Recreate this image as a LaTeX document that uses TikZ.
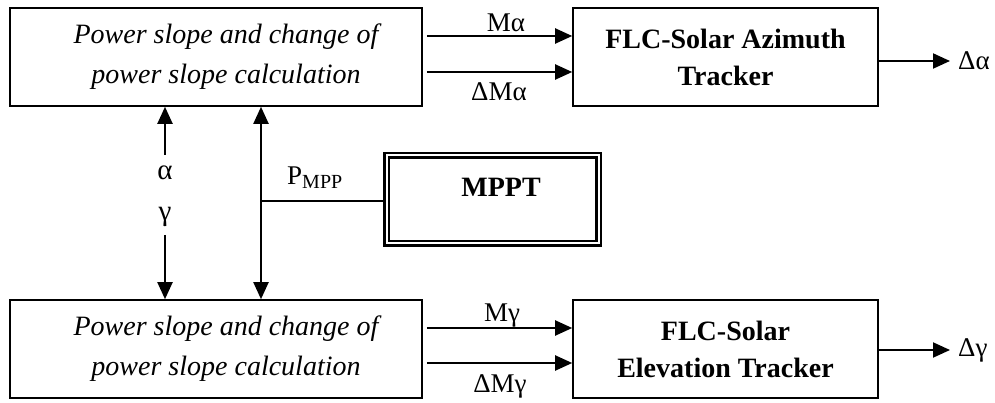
\documentclass[tikz,border=0pt]{standalone}
\usepackage{fontspec}
\setmainfont{Liberation Serif}
\usetikzlibrary{arrows.meta}
\tikzset{
  calcbox/.style={draw, line width=1.6pt, minimum width=412pt, minimum height=98pt,
    align=center, font=\fontsize{28}{40}\selectfont\itshape},
  flcbox/.style={draw, line width=1.6pt, minimum width=305pt, minimum height=98pt,
    align=center, font=\fontsize{28}{37}\selectfont\bfseries},
  mpptbox/.style={draw, line width=2.4pt, double, double distance=2pt,
    minimum width=212pt, minimum height=88pt},
  sig/.style={line width=2pt, -{Triangle[length=17pt,width=15pt]}},
  bisig/.style={line width=2pt, {Triangle[length=17pt,width=15pt]}-{Triangle[length=17pt,width=15pt]}},
  lbl/.style={font=\fontsize{27}{27}\selectfont, inner sep=0pt},
}

\begin{document}
\begin{tikzpicture}[x=1pt,y=-1pt]
    \useasboundingbox (0,0) rectangle (995,403);
    % blocks
    \node[calcbox] (calcA) at (216,57) {\hspace*{20pt}Power slope and change of\\\hspace*{20pt}power slope calculation};
    \node[flcbox] (flcA) at (725.5,57) {FLC-Solar Azimuth\\Tracker};
    \node[mpptbox] (mppt) at (492.5,199.5) {};
    \node[font=\fontsize{28}{28}\selectfont\bfseries] (mpptText) at (501,187) {MPPT};
    \node[calcbox] (calcG) at (216,349) {\hspace*{20pt}Power slope and change of\\\hspace*{20pt}power slope calculation};
    \node[flcbox] (flcG) at (725.5,349) {FLC-Solar\\Elevation Tracker};

    % azimuth path
    \draw[sig] ([shift={(4pt,21pt)}]calcA.east) -- ([yshift=21pt]flcA.west);
    \draw[sig] ([shift={(4pt,-15pt)}]calcA.east) -- ([yshift=-15pt]flcA.west);
    \node[lbl, anchor=base] (mA) at (506,32) {Mα};
    \node[lbl, anchor=base] (dmA) at (499,101) {ΔMα};
    \coordinate (outA) at (950,61);
    \draw[sig] (outA -| flcA.east) -- (outA);
    \node[lbl, anchor=west] (dA) at (958,61) {Δα};

    % elevation path
    \draw[sig] ([shift={(4pt,21pt)}]calcG.east) -- ([yshift=21pt]flcG.west);
    \draw[sig] ([shift={(4pt,-14pt)}]calcG.east) -- ([yshift=-14pt]flcG.west);
    \node[lbl, anchor=base] (mG) at (502,321) {Mγ};
    \node[lbl, anchor=base] (dmG) at (500,392) {ΔMγ};
    \coordinate (outG) at (950,350);
    \draw[sig] (outG -| flcG.east) -- (outG);
    \node[lbl, anchor=west] (dG) at (958,350) {Δγ};

    % angles and MPP power
    \node[lbl, font=\fontsize{29}{29}\selectfont] (alpha) at (165,173) {α};
    \node[lbl, font=\fontsize{29}{29}\selectfont] (gamma) at (165,217) {γ};
    \coordinate (aTop) at (165,155);
    \coordinate (gBot) at (165,235);
    \draw[sig] (aTop) -- (aTop |- calcA.south);
    \draw[sig] (gBot) -- (gBot |- calcG.north);
    \coordinate (bus) at (261,201);
    \draw[bisig] (bus |- calcA.south) -- (bus |- calcG.north);
    \draw[line width=2pt] (bus) -- (bus -| mppt.west);
    \node[font=\fontsize{27}{27}\selectfont, inner sep=0pt, anchor=base west] (pmpp) at (287,185)
        {P\raisebox{-4pt}{\fontsize{20}{20}\selectfont MPP}};
\end{tikzpicture}
\end{document}
